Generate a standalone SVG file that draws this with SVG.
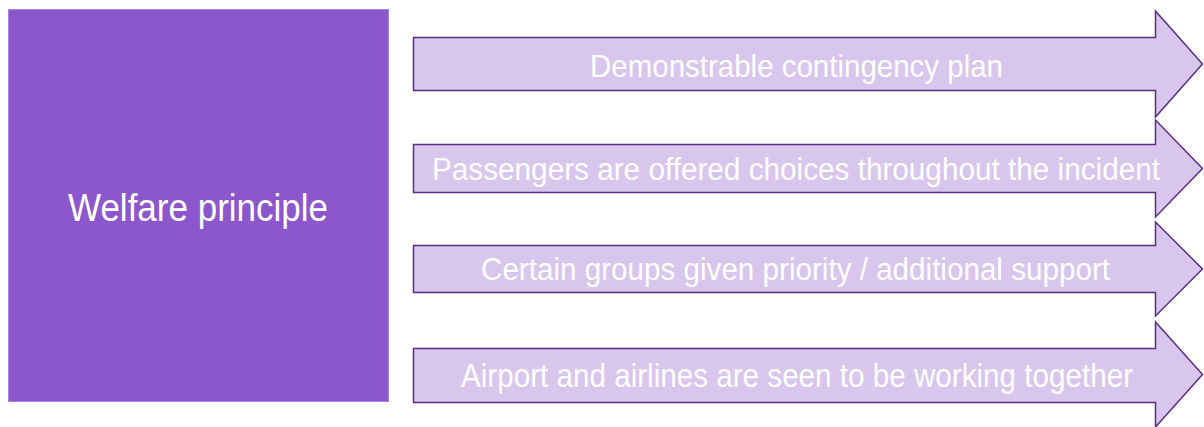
<svg xmlns="http://www.w3.org/2000/svg" width="1204" height="427" viewBox="0 0 1204 427">
<style>
.box{fill:#8c56cc;stroke:#a682dc;stroke-width:1}
.arrow{fill:#d9c6ec;stroke:#5a2d87;stroke-width:1.5;stroke-linejoin:miter}
.t{font-family:"Liberation Sans",Arial,sans-serif;fill:#ffffff}
</style>
<rect width="1204" height="427" fill="#ffffff"/>
<g id="welfare">
<rect class="box" x="8.5" y="9.5" width="380" height="392"/>
<text class="t" x="68" y="221" font-size="38" textLength="260" lengthAdjust="spacingAndGlyphs">Welfare principle</text>
</g>
<g id="connectors">
</g>
<g id="arrow1">
<path class="arrow" d="M413.5,37.5 H1155.5 V11 L1202.5,64 L1155.5,117 V90.5 H413.5 Z"/>
<text class="t" x="590" y="77" font-size="32" textLength="413" lengthAdjust="spacingAndGlyphs">Demonstrable contingency plan</text>
</g>
<g id="arrow2">
<path class="arrow" d="M413.5,144.5 H1155.5 V120 L1202.5,168.5 L1155.5,217 V192.5 H413.5 Z"/>
<text class="t" x="432" y="180" font-size="31" textLength="728" lengthAdjust="spacingAndGlyphs">Passengers are offered choices throughout the incident</text>
</g>
<g id="arrow3">
<path class="arrow" d="M413.5,245.5 H1155.5 V222 L1202.5,269 L1155.5,316 V292.5 H413.5 Z"/>
<text class="t" x="481" y="280" font-size="31" textLength="629" lengthAdjust="spacingAndGlyphs">Certain groups given priority / additional support</text>
</g>
<g id="arrow4">
<path class="arrow" d="M413.5,348.5 H1155.5 V322 L1202.5,374.5 L1155.5,427 V402.5 H413.5 Z"/>
<text class="t" x="461" y="387" font-size="33" textLength="672" lengthAdjust="spacingAndGlyphs">Airport and airlines are seen to be working together</text>
</g>
</svg>
